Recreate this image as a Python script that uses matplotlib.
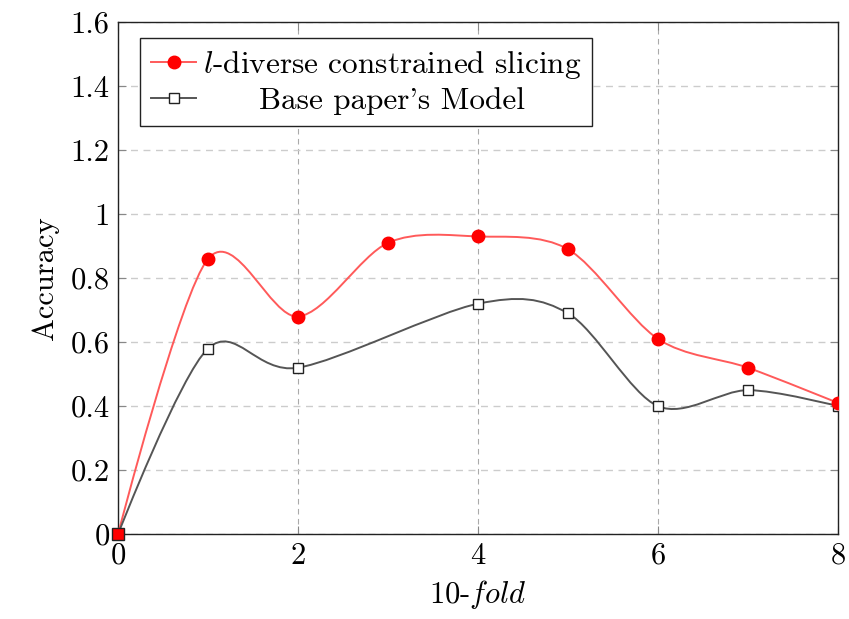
"""Accuracy per fold: l-diverse constrained slicing vs. base paper's model."""
import matplotlib
matplotlib.use("Agg")
import matplotlib.pyplot as plt
import numpy as np
from matplotlib.path import Path
from matplotlib.patches import PathPatch

plt.rcParams["font.family"] = "cmr10"
plt.rcParams["mathtext.fontset"] = "cm"
plt.rcParams["axes.formatter.use_mathtext"] = True

# values
RED_X = [0, 1, 2, 3, 4, 5, 6, 7, 8]
RED_Y = [0.0, 0.86, 0.68, 0.91, 0.93, 0.89, 0.61, 0.52, 0.41]
BLK_X = [0, 1, 2, 4, 5, 6, 7, 8]
BLK_Y = [0.0, 0.58, 0.52, 0.72, 0.69, 0.40, 0.45, 0.40]

XTICKS = [0, 2, 4, 6, 8]
YTICKS = [0, 0.2, 0.4, 0.6, 0.8, 1.0, 1.2, 1.4, 1.6]
YTICK_LABELS = ["0", "0.2", "0.4", "0.6", "0.8", "1", "1.2", "1.4", "1.6"]

RED_LABEL = "$l$-diverse constrained slicing"
BLK_LABEL = "Base paper's Model"

XMAX, YMAX = 8, 1.6
TENSION = 0.2775 * 0.55  # pgf "smooth" default


def smooth_path(xs, ys, sx, sy):
    """pgf-style smooth curve through the points, built in screen-like units."""
    p = np.column_stack([np.asarray(xs, float) * sx, np.asarray(ys, float) * sy])
    n = len(p)
    verts = [p[0]]
    codes = [Path.MOVETO]
    for i in range(n - 1):
        a, b = p[i], p[i + 1]
        c1 = a if i == 0 else a + TENSION * (p[i + 1] - p[i - 1])
        c2 = b if i == n - 2 else b - TENSION * (p[i + 2] - p[i])
        verts += [c1, c2, b]
        codes += [Path.CURVE4] * 3
    v = np.array(verts)
    v[:, 0] /= sx
    v[:, 1] /= sy
    return Path(v, codes)


fig = plt.figure(figsize=(8.49, 6.19), dpi=100)
ax = fig.add_axes([0.139, 0.137, 0.848, 0.8275])
ax.set_xlim(0, XMAX)
ax.set_ylim(0, YMAX)

# screen scale (pixels per data unit) so the smoothing matches the rendered aspect
sx = 0.848 * 849 / XMAX
sy = 0.8275 * 619 / YMAX

ax.add_patch(PathPatch(smooth_path(RED_X, RED_Y, sx, sy), fc="none",
                       ec="#ff5a5a", lw=1.4, zorder=3))
ax.add_patch(PathPatch(smooth_path(BLK_X, BLK_Y, sx, sy), fc="none",
                       ec="#555555", lw=1.4, zorder=3))

ax.plot(BLK_X, BLK_Y, ls="none", marker="s", ms=7.5, mfc="white",
        mec="#222222", mew=1.0, zorder=4)
ax.plot(RED_X[1:], RED_Y[1:], ls="none", marker="o", ms=9, color="red",
        zorder=5)
ax.plot(RED_X[:1], RED_Y[:1], ls="none", marker="s", ms=8.5, mfc="red",
        mec="#222222", mew=1.0, zorder=6, clip_on=False)

# legend handles
h_red, = ax.plot([], [], color="#ff5a5a", lw=1.4, marker="o", ms=9,
                 mfc="red", mec="red")
h_blk, = ax.plot([], [], color="#555555", lw=1.4, marker="s", ms=7,
                 mfc="white", mec="#222222")

ax.set_xticks(XTICKS)
ax.set_yticks(YTICKS)
ax.set_yticklabels(YTICK_LABELS)
ax.tick_params(direction="in", length=6, width=0.8, color="#888888",
               top=True, right=True, labelsize=22, pad=6)
ax.grid(True, axis="y", ls=(0, (5, 4)), color="#cccccc", lw=1.0)
ax.grid(True, axis="x", ls=(0, (5, 4)), color="#aaaaaa", lw=0.8)
ax.set_axisbelow(True)
for s in ax.spines.values():
    s.set_linewidth(1.0)
    s.set_color("#222222")

ax.set_xlabel("10-$\\mathit{fold}$", fontsize=22, labelpad=6)
ax.set_ylabel("Accuracy", fontsize=22, labelpad=8)

leg = ax.legend([h_red, h_blk], [RED_LABEL, BLK_LABEL], loc="upper left",
                bbox_to_anchor=(0.0306, 0.969), borderaxespad=0,
                fontsize=22.5, frameon=True,
                fancybox=False, edgecolor="#222222", framealpha=1,
                handlelength=1.45, handletextpad=0.2, borderpad=0.35,
                labelspacing=0.2)
leg.get_frame().set_linewidth(1.0)

# centre the labels inside the legend cell, as pgfplots does
fig.canvas.draw()
texts = leg.get_texts()
r = fig.canvas.get_renderer()
widths = [t.get_window_extent(r).width for t in texts]
wmax = max(widths)
for t, w in zip(texts, widths):
    t.set_position(((wmax - w) / 2, 0))

fig.savefig("out.png", dpi=100)
